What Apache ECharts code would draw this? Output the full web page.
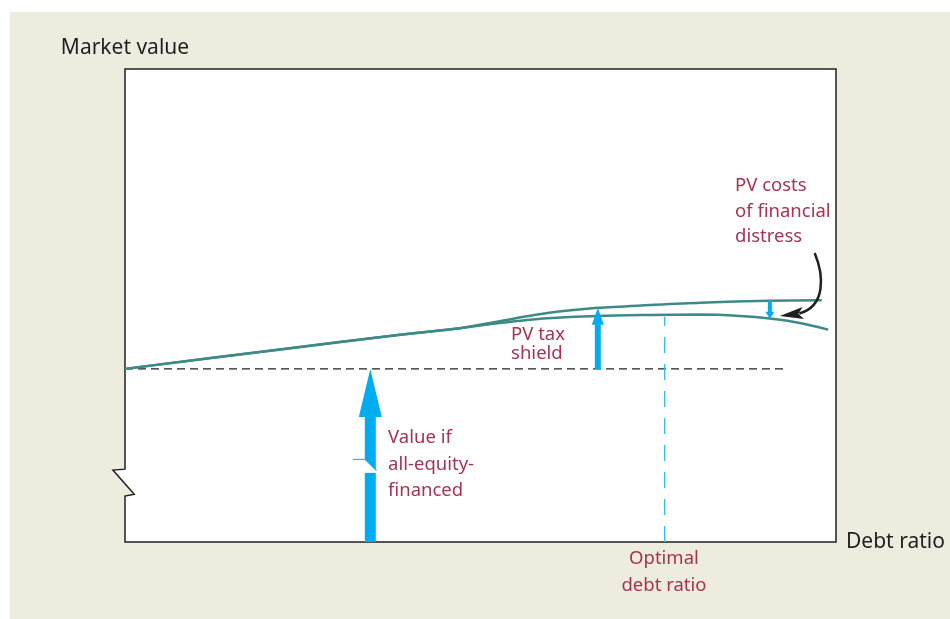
<!DOCTYPE html>
<html>
<head>
<meta charset="utf-8">
<script src="https://cdn.jsdelivr.net/npm/echarts@6/dist/echarts.min.js"></script>
<style>
  html, body { margin: 0; padding: 0; background: #fff; }
  #bg { position: absolute; left: 10px; top: 12px; right: 0; bottom: 0; background: #eeebdf; }
  #chart { position: absolute; left: 0; top: 0; width: 950px; height: 619px; }
</style>
</head>
<body>
<div id="bg"></div>
<div id="chart"></div>
<script>
// debt ratio (0-100) vs market value (0-100, arbitrary units)
const upperCurve = [[0, 36.6], [21.8, 40.7], [38.7, 43.8], [47.1, 45.2], [52.7, 46.7], [59.4, 48.4],
  [66.5, 49.5], [73.8, 50.1], [80.9, 50.6], [90.7, 51.0], [98.0, 51.1]];
const lowerCurve = [[0, 36.6], [21.8, 40.7], [38.7, 43.8], [47.1, 45.2], [52.7, 46.3], [59.4, 47.3],
  [66.5, 47.8], [73.8, 48.0], [80.9, 48.1], [86.5, 47.8], [90.7, 47.25], [94.9, 46.3], [98.9, 44.9]];
const equityLine = [[0, 36.6], [92.8, 36.6]];
const optimalLine = [[75.9, 0], [75.9, 47.6]];
const axisBreak = [[0, 9.7], [1.3, 10.1], [-1.7, 15.2], [0, 15.4]];
// arrows: x, from, to
const arrows = [[34.5, 0, 36.6], [66.5, 36.6, 49.5], [90.7, 51.0, 47.2]];
const arrowBreakAt = 16.2;
// curved pointer: bezier start, ctrl1, ctrl2, end, then arrow tip
const pointer = [[97.0, 61.1], [98.3, 56.4], [98.6, 49.9], [95.4, 48.4], [92.1, 47.8]];
const labelPos = [[37.0, 22.0], [54.3, 43.8], [85.8, 75.3], [75.8, -3.6]];
const labelText = [['Value if', 'all-equity-', 'financed'], ['PV tax', 'shield'],
  ['PV costs', 'of financial', 'distress'], ['Optimal', 'debt ratio']];

const TEAL = '#3d8a87';
const BLUE = '#00aeef';
const RED = '#a63350';
const INK = '#231f20';
const FONT = '"Noto Sans", Lato, sans-serif';

const arrowSize = [
  { shaft: 11, head: 23, headLen: 48 },
  { shaft: 6, head: 12, headLen: 17 },
  { shaft: 4, head: 9, headLen: 7 }
];
const labelStyle = [
  { align: 'left', lh: 26.5 },
  { align: 'left', lh: 18.5 },
  { align: 'left', lh: 25.5 },
  { align: 'center', lh: 26.5 }
];

const chart = echarts.init(document.getElementById('chart'));

chart.setOption({
  animation: false,
  grid: { left: 125, right: 114, top: 69, bottom: 77 },
  xAxis: {
    type: 'value', min: 0, max: 100,
    axisLine: { show: false }, axisTick: { show: false }, axisLabel: { show: false }, splitLine: { show: false },
    name: 'Debt ratio', nameLocation: 'end', nameGap: 10,
    nameTextStyle: { fontFamily: FONT, fontSize: 21, color: INK, padding: [0, 0, 10, 0] }
  },
  yAxis: {
    type: 'value', min: 0, max: 100,
    axisLine: { show: false }, axisTick: { show: false }, axisLabel: { show: false }, splitLine: { show: false },
    name: 'Market value', nameLocation: 'end', nameGap: 10,
    nameTextStyle: { fontFamily: FONT, fontSize: 21, color: INK }
  },
  series: [
    {
      // plot frame with axis break on the left
      type: 'custom', z: 1, silent: true,
      data: [0],
      renderItem: function (params, api) {
        const pts = [api.coord([0, 100]), api.coord([100, 100]), api.coord([100, 0]), api.coord([0, 0])];
        axisBreak.forEach(p => pts.push(api.coord(p)));
        return {
          type: 'polygon',
          shape: { points: pts },
          style: { fill: '#fff', stroke: INK, lineWidth: 1.5 }
        };
      }
    },
    {
      type: 'line', data: equityLine, showSymbol: false, silent: true, z: 2,
      lineStyle: { color: INK, width: 1.2, type: [8, 5] }
    },
    {
      type: 'line', data: optimalLine, showSymbol: false, silent: true, z: 2,
      lineStyle: { color: '#2ec0f0', width: 1.3, type: [16, 11] }
    },
    {
      type: 'line', data: upperCurve, smooth: 0.3, showSymbol: false, silent: true, z: 3,
      lineStyle: { color: TEAL, width: 2.5 }
    },
    {
      type: 'line', data: lowerCurve, smooth: 0.3, showSymbol: false, silent: true, z: 3,
      lineStyle: { color: TEAL, width: 2.5 }
    },
    {
      type: 'custom', z: 4, silent: true,
      data: arrows,
      renderItem: function (params, api) {
        const i = params.dataIndex;
        const sz = arrowSize[i];
        const b = api.coord([api.value(0), api.value(1)]);
        const t = api.coord([api.value(0), api.value(2)]);
        const x = b[0];
        const dir = t[1] < b[1] ? 1 : -1; // 1 = pointing up
        const hb = t[1] + dir * sz.headLen;
        const s = sz.shaft / 2, h = sz.head / 2;
        if (i !== 0) {
          return {
            type: 'polygon',
            shape: { points: [[x - s, b[1]], [x - s, hb], [x - h, hb], [x, t[1]], [x + h, hb], [x + s, hb], [x + s, b[1]]] },
            style: { fill: BLUE }
          };
        }
        const by = api.coord([0, arrowBreakAt])[1];
        return {
          type: 'group',
          children: [
            {
              type: 'polygon',
              shape: { points: [[x - s, by - 6], [x - s, hb], [x - h, hb], [x, t[1]], [x + h, hb], [x + s, hb], [x + s, by + 5.5]] },
              style: { fill: BLUE }
            },
            {
              type: 'rect',
              shape: { x: x - s, y: by + 7.5, width: sz.shaft, height: b[1] - by - 7.5 },
              style: { fill: BLUE }
            },
            {
              type: 'polyline',
              shape: { points: [[x - s - 12, by - 6], [x - s, by - 6], [x + s + 1, by + 5]] },
              style: { stroke: BLUE, lineWidth: 1, fill: null }
            }
          ]
        };
      }
    },
    {
      // curved pointer to the distress gap
      type: 'custom', z: 5, silent: true,
      data: [0],
      renderItem: function (params, api) {
        const p = pointer.map(q => api.coord(q));
        const base = p[3], tip = p[4];
        const dx = tip[0] - base[0], dy = tip[1] - base[1];
        const len = Math.sqrt(dx * dx + dy * dy);
        const ux = dx / len, uy = dy / len;
        const nx = -uy * 6, ny = ux * 6;
        return {
          type: 'group',
          children: [
            {
              type: 'bezierCurve',
              shape: { x1: p[0][0], y1: p[0][1], cpx1: p[1][0], cpy1: p[1][1], cpx2: p[2][0], cpy2: p[2][1], x2: base[0] + ux * 4, y2: base[1] + uy * 4 },
              style: { stroke: INK, lineWidth: 2.5, fill: null }
            },
            {
              type: 'polygon',
              shape: { points: [[base[0] + nx, base[1] + ny], tip, [base[0] - nx, base[1] - ny], [base[0] + ux * 5, base[1] + uy * 5]] },
              style: { fill: INK }
            }
          ]
        };
      }
    },
    {
      type: 'custom', z: 6, silent: true,
      data: labelPos,
      renderItem: function (params, api) {
        const i = params.dataIndex;
        const p = api.coord([api.value(0), api.value(1)]);
        const st = labelStyle[i];
        return {
          type: 'group',
          children: labelText[i].map((line, k) => ({
            type: 'text',
            x: p[0], y: p[1] + k * st.lh,
            style: {
              text: line, fill: RED, font: '18.5px ' + FONT,
              align: st.align, verticalAlign: 'middle'
            }
          }))
        };
      }
    }
  ]
});
</script>
</body>
</html>
